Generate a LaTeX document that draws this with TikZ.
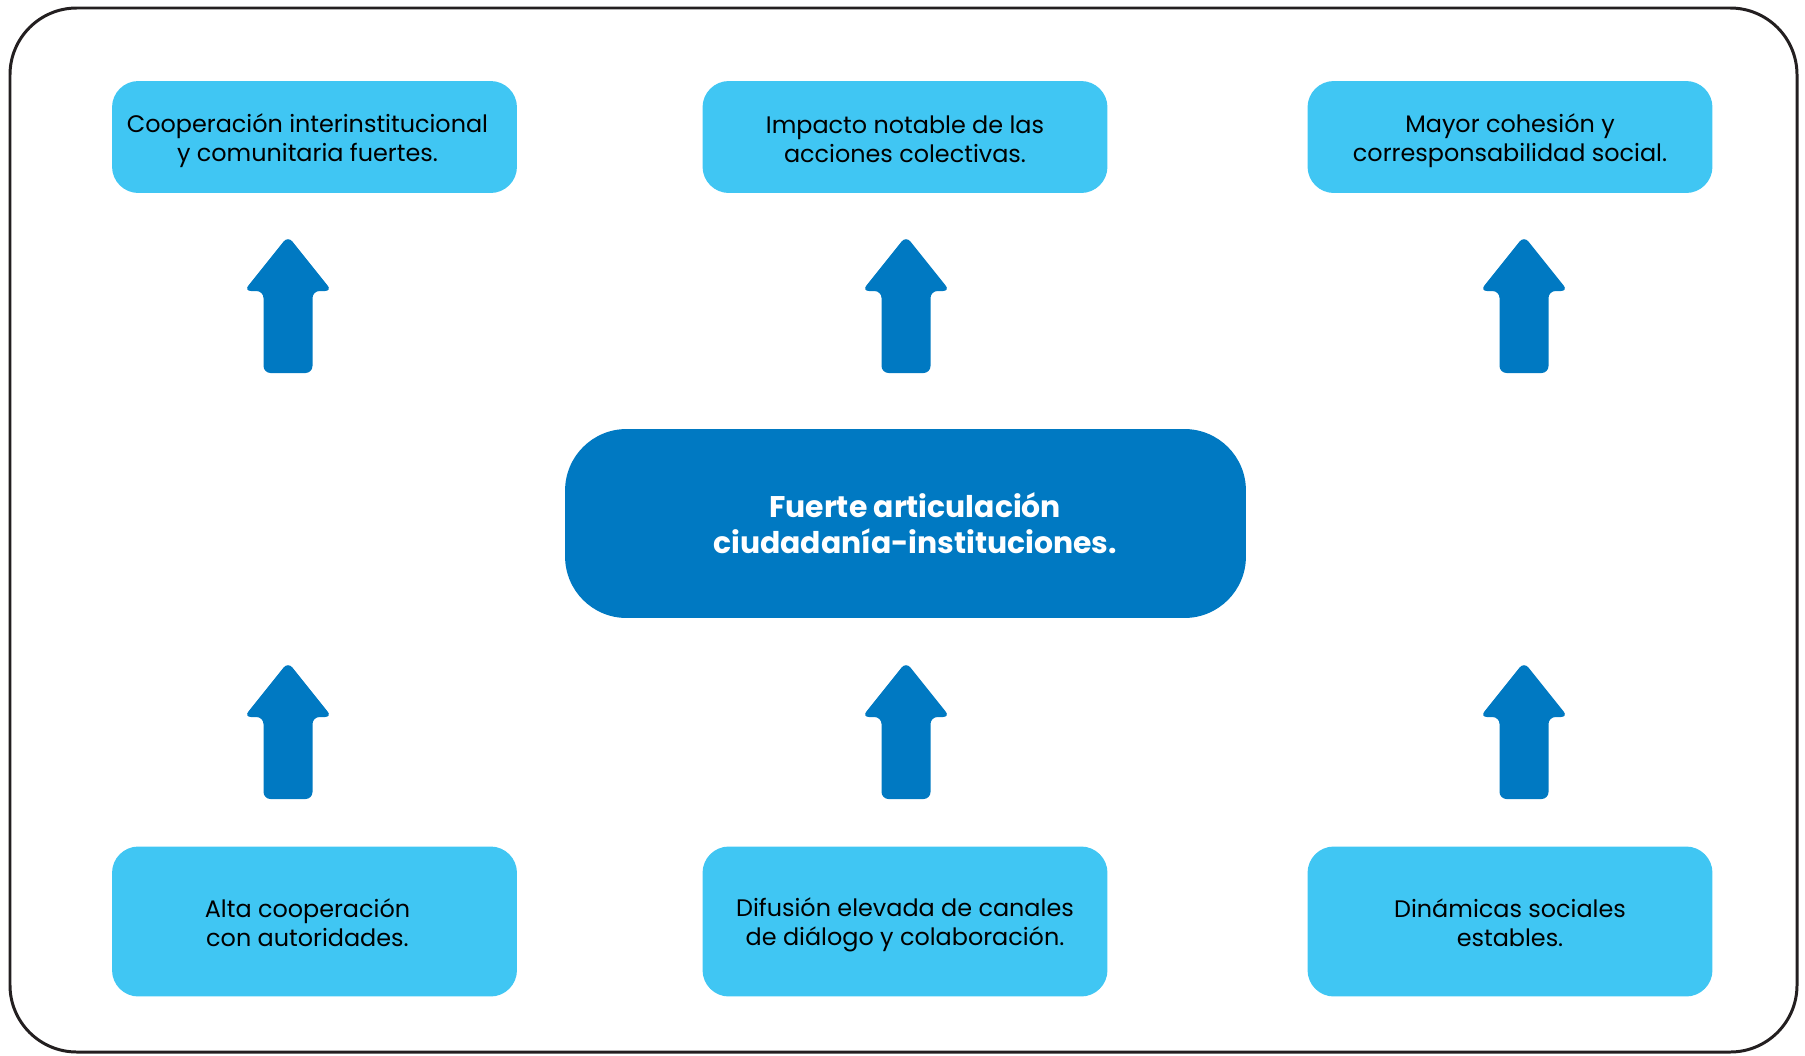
\documentclass[tikz,border=0pt]{standalone}
\usepackage{fontspec}
\setmainfont{Poppins}
\usepackage{xcolor}
\definecolor{myblue}{HTML}{0079C2}
\definecolor{mycyan}{HTML}{40C6F3}
\definecolor{myframe}{HTML}{231F20}
\usepackage{tikz}
\newcommand\topstrut{\rule{0pt}{15pt}}
\newcommand\botstrut{\rule[-3pt]{0pt}{3pt}}
\newcommand\nudge[1]{\kern#1}

\begin{document}
\begin{tikzpicture}[x=0.02cm,y=-0.02cm,
    result/.style={fill=mycyan, rounded corners=15, minimum width=8.1cm, minimum height=2.24cm, inner sep=0pt, align=center, font=\fontsize{13.6}{16.5}\selectfont},
    cause/.style={result, minimum height=3cm},
    core/.style={fill=myblue, rounded corners=35, minimum width=13.62cm, minimum height=3.78cm, inner sep=0pt, align=center, text=white, font=\bfseries\fontsize{17}{20.5}\selectfont}]
      \useasboundingbox (0,0) rectangle (1805,1055);
      \draw[myframe, line width=1.7pt, rounded corners=38] (10,8) rectangle (1797,1052);
      \node[result] (r1) at (314.5,137) {\nudge{-8pt}\topstrut Cooperación interinstitucional\\\nudge{-8pt}y comunitaria fuertes.\botstrut};
      \node[result] (r2) at (905,137) {\topstrut Impacto notable de las\\acciones colectivas.\botstrut};
      \node[result] (r3) at (1510,137) {\topstrut Mayor cohesión y\\corresponsabilidad social.\botstrut};
      \node[core] (c) at (905.5,523.5) {\nudge{11pt}Fuerte articulación\\\nudge{11pt}ciudadanía-instituciones.};
      \node[cause] (s1) at (314.5,921.5) {\nudge{-8pt}\topstrut Alta cooperación\\\nudge{-8pt}con autoridades.\botstrut};
      \node[cause] (s2) at (905,921.5) {\topstrut Difusión elevada de canales\\de diálogo y colaboración.\botstrut};
      \node[cause] (s3) at (1510,921.5) {\topstrut Dinámicas sociales\\estables.\botstrut};
      \fill[myblue, rounded corners=4] foreach \ax/\ay in {288/236,906/236,1524/236,288/662,906/662,1524/662}{
        (\ax,\ay) -- ++(44,55) -- ++(-19.5,0) -- ++(0,82) -- ++(-49,0) -- ++(0,-82) -- ++(-19.5,0) -- cycle};
    \end{tikzpicture}
\end{document}
